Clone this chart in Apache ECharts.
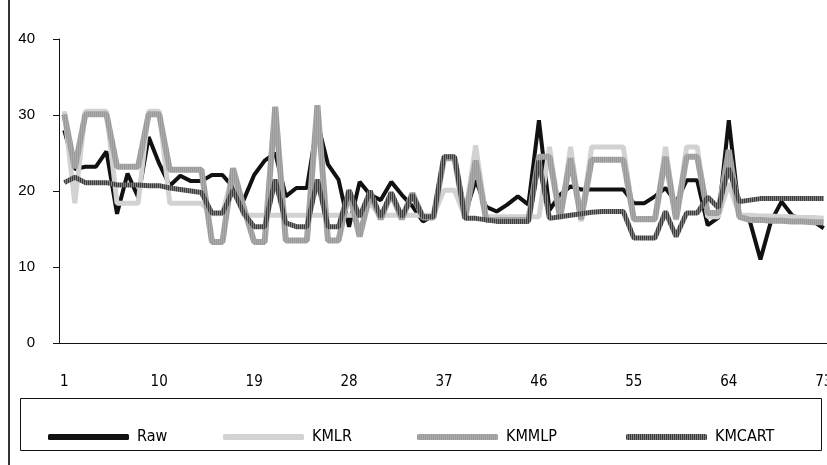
<!DOCTYPE html>
<html>
<head>
<meta charset="utf-8">
<script src="https://cdn.jsdelivr.net/npm/echarts@6/dist/echarts.min.js"></script>
<style>
  html, body { margin: 0; padding: 0; background: #fff; overflow: hidden; }
  /* wider than the window so the last tick label gets cut off at the edge, like the original */
  #chart { width: 880px; height: 465px; }
</style>
</head>
<body>
<div id="chart"></div>
<script>
// values, index 1..73
var categories = [];
for (var i = 1; i <= 73; i++) categories.push(String(i));

var raw = [28, 22.9, 23.2, 23.2, 25.2, 17, 22.3, 19.2, 27.1, 23.6,
  20.7, 22, 21.3, 21.3, 22.1, 22.1, 20.5, 18.8, 22.1, 24,
  25, 19.3, 20.4, 20.4, 29, 23.5, 21.5, 15.3, 21.2, 19.5,
  18.8, 21.2, 19.5, 18, 16, 16.8, 24.5, 24.5, 17, 21.4,
  17.9, 17.3, 18.2, 19.3, 18.2, 29.3, 17.5, 19.5, 20.6, 20.2,
  20.2, 20.2, 20.2, 20.2, 18.4, 18.4, 19.3, 20.4, 18.5, 21.4,
  21.4, 15.5, 16.5, 29.3, 17, 16, 11, 16, 18.6, 16.8,
  16.2, 16, 15.1];

var kmlr = [30.5, 18.4, 30.5, 30.5, 30.5, 18.4, 18.4, 18.4, 30.5, 30.5,
  18.4, 18.4, 18.4, 18.4, 17, 17, 22.5, 16.8, 16.8, 16.8,
  16.8, 16.8, 16.8, 16.8, 16.8, 16.8, 16.8, 16.8, 16.8, 18.3,
  16.8, 16.8, 16.8, 16.8, 16.8, 16.8, 20.1, 20.1, 16.6, 26,
  16.6, 16.6, 16.6, 16.6, 16.6, 16.6, 25.8, 16.3, 25.8, 16.0,
  25.8, 25.8, 25.8, 25.8, 16.2, 16.2, 16.2, 25.8, 16.2, 25.8,
  25.8, 16.6, 16.6, 21, 16.8, 16.8, 16.7, 16.7, 16.6, 16.6,
  16.5, 16.5, 16.4];

var kmmlp = [30.1, 23, 30.1, 30.1, 30.1, 23.2, 23.2, 23.2, 30.1, 30.1,
  22.8, 22.8, 22.8, 22.8, 13.3, 13.3, 23, 17.9, 13.3, 13.3,
  31.1, 13.5, 13.5, 13.5, 31.3, 13.5, 13.5, 20, 14, 19.7,
  16.3, 19.7, 16.3, 19.7, 16.5, 16.5, 24.3, 24.3, 16.4, 24,
  16.2, 16.2, 16.2, 16.2, 16.2, 24.5, 24.5, 16.5, 24.3, 16.3,
  24.1, 24.1, 24.1, 24.1, 16.3, 16.3, 16.3, 24.5, 16.3, 24.5,
  24.5, 17.1, 17.1, 25.4, 16.6, 16.2, 16.2, 16.1, 16.1, 16.0,
  16.0, 15.9, 15.9];

var kmcart = [21.1, 21.8, 21.1, 21.1, 21.1, 20.8, 20.8, 20.8, 20.7, 20.7,
  20.4, 20.2, 20.0, 19.8, 17.1, 17.1, 20.1, 17.1, 15.3, 15.3,
  21.5, 15.8, 15.3, 15.3, 21.5, 15.3, 15.3, 20.1, 16.6, 20.0,
  16.6, 19.8, 16.6, 19.5, 16.6, 16.6, 24.5, 24.5, 16.4, 16.4,
  16.2, 16.0, 16.0, 16.0, 16.0, 24, 16.4, 16.6, 16.8, 17.0,
  17.2, 17.3, 17.3, 17.3, 13.8, 13.8, 13.8, 17.3, 14.0, 17.1,
  17.1, 19.2, 17.8, 23, 18.6, 18.8, 19.0, 19.0, 19.0, 19.0,
  19.0, 19.0, 19.0];

var yTicks = { min: 0, max: 40, step: 10 };

// striped texture for the KMCART line
function stripes(a, b) {
  var c = document.createElement('canvas');
  c.width = 2; c.height = 1;
  var g = c.getContext('2d');
  g.fillStyle = a; g.fillRect(0, 0, 1, 1);
  g.fillStyle = b; g.fillRect(1, 0, 1, 1);
  return { image: c, repeat: 'repeat' };
}
var cartColor = stripes('#3c3c3c', '#808080');
var mlpColor = stripes('#9a9a9a', '#aaaaaa');

var narrow = "'Liberation Sans Narrow', 'DejaVu Sans Condensed', 'Liberation Sans', Arial, sans-serif";

function legendAt(name, x) {
  return {
    data: [name],
    left: x,
    top: 429,
    padding: 0,
    icon: 'roundRect',
    itemWidth: 81,
    itemHeight: 6,
    textStyle: { fontFamily: narrow, fontSize: 16, color: '#000', padding: [4, 0, 0, 3] }
  };
}

var chart = echarts.init(document.getElementById('chart'));
chart.setOption({
  animation: false,
  backgroundColor: '#fff',
  grid: { left: 59, top: 39, width: 770, height: 304 },
  xAxis: {
    type: 'category',
    data: categories,
    boundaryGap: true,
    axisLine: { lineStyle: { color: '#111', width: 1 } },
    axisTick: { interval: 4, length: 7, lineStyle: { color: '#111' } },
    axisLabel: { interval: 8, margin: 32, fontFamily: narrow, fontSize: 15, color: '#000' },
    splitLine: { show: false }
  },
  yAxis: {
    type: 'value',
    min: yTicks.min,
    max: yTicks.max,
    interval: yTicks.step,
    axisLine: { show: true, lineStyle: { color: '#111', width: 1 } },
    axisTick: { show: true, length: 6, lineStyle: { color: '#111' } },
    axisLabel: { margin: 24, fontFamily: "'Liberation Sans', Arial, sans-serif", fontSize: 15, color: '#000' },
    splitLine: { show: false }
  },
  legend: [
    legendAt('Raw', 48),
    legendAt('KMLR', 223),
    legendAt('KMMLP', 417),
    legendAt('KMCART', 626)
  ],
  graphic: [
    { type: 'line', shape: { x1: 9, y1: 0, x2: 9, y2: 465 }, style: { stroke: '#333', lineWidth: 2 } },
    { type: 'rect', shape: { x: 20.5, y: 398.5, width: 801, height: 52 }, style: { fill: 'none', stroke: '#111', lineWidth: 1 } }
  ],
  series: [
    { name: 'Raw', type: 'line', data: raw, showSymbol: false, symbol: 'none', z: 2,
      lineStyle: { color: '#111', width: 4 }, itemStyle: { color: '#111' } },
    { name: 'KMLR', type: 'line', data: kmlr, showSymbol: false, symbol: 'none', z: 3,
      lineStyle: { color: '#d2d2d2', width: 5 }, itemStyle: { color: '#d2d2d2' } },
    { name: 'KMMLP', type: 'line', data: kmmlp, showSymbol: false, symbol: 'none', z: 4,
      lineStyle: { color: mlpColor, width: 6 }, itemStyle: { color: mlpColor } },
    { name: 'KMCART', type: 'line', data: kmcart, showSymbol: false, symbol: 'none', z: 5,
      lineStyle: { color: cartColor, width: 5 }, itemStyle: { color: cartColor } }
  ]
});
</script>
</body>
</html>
